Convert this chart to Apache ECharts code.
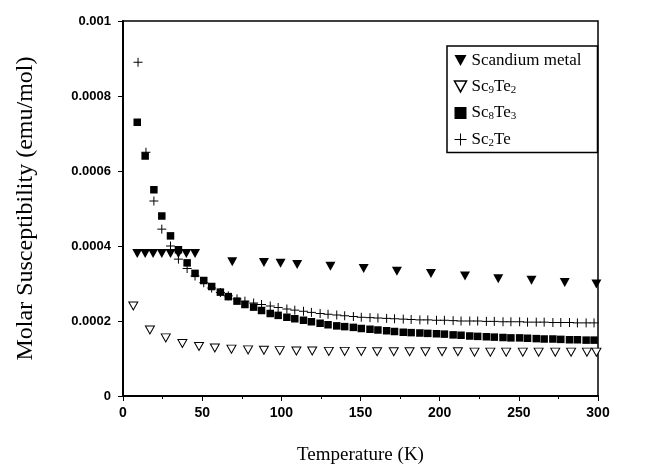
<!DOCTYPE html>
<html>
<head>
<meta charset="utf-8">
<script src="https://cdn.jsdelivr.net/npm/echarts@6/dist/echarts.min.js"></script>
<style>
html, body { margin: 0; padding: 0; background: #fff; }
#chart { width: 645px; height: 474px; }
</style>
</head>
<body>
<div id="chart"></div>
<script>
// Scandium metal (filled down triangles)
var scTemp = [9, 14, 19, 24.5, 30, 35, 40, 45.5, 69, 89, 99.5, 110, 131, 152, 173, 194.5, 216, 237, 258, 279, 299];
var scChi = [0.00038, 0.00038, 0.00038, 0.00038, 0.00038, 0.00038, 0.00038, 0.00038,
    0.000358, 0.000356, 0.000354, 0.000351, 0.000346, 0.00034, 0.000333, 0.000327,
    0.00032, 0.000313, 0.000309, 0.000303, 0.000299];

// Sc9Te2 (open down triangles)
var sc9Temp = [6.5, 17, 27, 37.5, 48, 58, 68.5, 79, 89, 99, 109.5, 119.5, 130, 140, 150.5,
    160.5, 171, 181, 191, 201.5, 211.5, 222, 232, 242, 252.5, 262.5, 273, 283, 293, 299];
var sc9Chi = [0.00024, 0.000176, 0.000155, 0.00014, 0.000132, 0.000128, 0.000125, 0.000123,
    0.000122, 0.000121, 0.00012, 0.00012, 0.000119, 0.000119, 0.000119, 0.000118, 0.000118,
    0.000118, 0.000118, 0.000118, 0.000118, 0.000117, 0.000117, 0.000117, 0.000117,
    0.000117, 0.000117, 0.000117, 0.000117, 0.000117];

// Sc8Te3 (filled squares)
var sc8Temp = [9, 14, 19.5, 24.5, 30, 35, 40.5, 45.5, 51, 56, 61.5, 66.5, 72, 77, 82.5, 87.5,
    93, 98, 103.5, 108.5, 114, 119, 124.5, 129.5, 135, 140, 145.5, 150.5, 156, 161, 166.5,
    171.5, 177, 182, 187.5, 192.5, 198, 203, 208.5, 213.5, 219, 224, 229.5, 234.5, 240, 245,
    250.5, 255.5, 261, 266, 271.5, 276.5, 282, 287, 292.5, 297.5];
var sc8Chi = [0.00073, 0.00064, 0.00055, 0.00048, 0.000427, 0.00039, 0.000355, 0.000327,
    0.000308, 0.000292, 0.000277, 0.000265, 0.000253, 0.000244, 0.000237, 0.000228, 0.00022,
    0.000215, 0.00021, 0.000206, 0.000202, 0.000198, 0.000194, 0.00019, 0.000187, 0.000185,
    0.000183, 0.00018, 0.000178, 0.000176, 0.000174, 0.000172, 0.00017, 0.000169, 0.000168,
    0.000167, 0.000166, 0.000165, 0.000163, 0.000162, 0.00016, 0.000159, 0.000158, 0.000157,
    0.000156, 0.000155, 0.000155, 0.000154, 0.000153, 0.000152, 0.000152, 0.000151, 0.00015,
    0.00015, 0.000149, 0.000149];

// Sc2Te (plus signs)
var sc2Temp = [9.5, 14.5, 19.5, 24.5, 30, 35, 40.5, 45.5, 51, 56, 61.5, 66.5, 72, 77, 82.5,
    87.5, 93, 98, 103.5, 108.5, 114, 119, 124.5, 129.5, 135, 140, 145.5, 150.5, 156, 161,
    166.5, 171.5, 177, 182, 187.5, 192.5, 198, 203, 208.5, 213.5, 219, 224, 229.5, 234.5,
    240, 245, 250.5, 255.5, 261, 266, 271.5, 276.5, 282, 287, 292.5, 297.5];
var sc2Chi = [0.00089, 0.00065, 0.00052, 0.000445, 0.0004, 0.000365, 0.00034, 0.00032,
    0.000302, 0.000288, 0.000276, 0.000267, 0.000259, 0.000253, 0.000248, 0.000244, 0.00024,
    0.000236, 0.000232, 0.000229, 0.000226, 0.000223, 0.00022, 0.000218, 0.000216, 0.000214,
    0.000212, 0.00021, 0.000209, 0.000208, 0.000207, 0.000206, 0.000205, 0.000204, 0.000203,
    0.000203, 0.000202, 0.000202, 0.000201, 0.0002, 0.0002, 0.0002, 0.000199, 0.000199,
    0.000198, 0.000198, 0.000198, 0.000197, 0.000197, 0.000197, 0.000196, 0.000196, 0.000196,
    0.000195, 0.000195, 0.000195];

var seriesNames = ['Scandium metal', 'Sc9Te2', 'Sc8Te3', 'Sc2Te'];

var pairUp = function (xs, ys) {
    var out = [];
    for (var i = 0; i < xs.length; i++) {
        out.push([xs[i], ys[i]]);
    }
    return out;
};

// legend text with subscripts
var legendLabel = function (name) {
    if (name === 'Scandium metal') return '{n|Scandium metal}';
    var m = name.match(/^Sc(\d)Te(\d)?$/);
    var s = '{n|Sc}{s|' + m[1] + '}{n|Te}';
    if (m[2]) s += '{s|' + m[2] + '}';
    return s;
};

var serif = '"Liberation Serif", "Times New Roman", serif';
var sans = '"Liberation Sans", Arial, sans-serif';
var downTri = 'path://M0,0L10,0L5,9Z';
var plusPath = 'path://M0,5L10,5M5,0L5,10';

var chart = echarts.init(document.getElementById('chart'), null, {renderer: 'canvas'});

var option = {
    animation: false,
    backgroundColor: '#fff',
    grid: {
        left: 123, right: 47, top: 21, bottom: 78,
        show: true, borderColor: '#000', borderWidth: 1.5
    },
    legend: {
        orient: 'vertical',
        left: 447, top: 46,
        padding: [6, 16, 4, 5],
        itemGap: 9,
        itemWidth: 12, itemHeight: 12,
        backgroundColor: '#fff',
        borderColor: '#000', borderWidth: 1.5,
        data: [
            {name: seriesNames[0], icon: downTri, itemStyle: {color: '#000', borderWidth: 0}},
            {name: seriesNames[1], icon: downTri, itemStyle: {color: '#fff', borderColor: '#000', borderWidth: 1.5}},
            {name: seriesNames[2], icon: 'rect', itemStyle: {color: '#000', borderWidth: 0}},
            {name: seriesNames[3], icon: plusPath, itemStyle: {color: 'none', borderColor: '#000', borderWidth: 1}}
        ],
        formatter: legendLabel,
        textStyle: {
            color: '#000',
            rich: {
                n: {fontFamily: serif, fontSize: 17, color: '#000', lineHeight: 18},
                s: {fontFamily: serif, fontSize: 11, color: '#000', lineHeight: 11, verticalAlign: 'bottom'}
            }
        }
    },
    xAxis: {
        type: 'value',
        min: 0, max: 300, interval: 50,
        name: 'Temperature (K)',
        nameLocation: 'middle',
        nameGap: 50,
        nameTextStyle: {fontFamily: serif, fontSize: 19, color: '#000'},
        axisLine: {show: true, lineStyle: {color: '#000', width: 2}},
        axisTick: {show: true, inside: false, length: 5, lineStyle: {color: '#000', width: 1}},
        minorTick: {show: true, splitNumber: 2, length: 3, lineStyle: {color: '#000'}},
        splitLine: {show: false},
        axisLabel: {
            margin: 10,
            fontFamily: sans, fontWeight: 'bold', fontSize: 14, color: '#000'
        }
    },
    yAxis: {
        type: 'value',
        min: 0, max: 0.001, interval: 0.0002,
        name: 'Molar Susceptibility (emu/mol)',
        nameLocation: 'middle',
        nameGap: 85,
        nameTextStyle: {fontFamily: serif, fontSize: 24, color: '#000'},
        axisLine: {show: true, lineStyle: {color: '#000', width: 2}},
        axisTick: {show: true, inside: false, length: 5, lineStyle: {color: '#000', width: 1}},
        splitLine: {show: false},
        axisLabel: {
            margin: 12,
            fontFamily: sans, fontWeight: 'bold', fontSize: 13, color: '#000',
            formatter: function (v) {
                return v === 0 ? '0' : String(parseFloat(v.toFixed(4)));
            }
        }
    },
    series: [
        {
            name: seriesNames[0], type: 'scatter',
            symbol: downTri, symbolSize: [10, 9],
            itemStyle: {color: '#000', opacity: 1},
            data: pairUp(scTemp, scChi), z: 4
        },
        {
            name: seriesNames[1], type: 'scatter',
            symbol: downTri, symbolSize: [9, 8],
            itemStyle: {color: '#fff', borderColor: '#000', borderWidth: 1, opacity: 1},
            data: pairUp(sc9Temp, sc9Chi), z: 3
        },
        {
            name: seriesNames[2], type: 'scatter',
            symbol: 'rect', symbolSize: 7.5,
            itemStyle: {color: '#000', opacity: 1},
            data: pairUp(sc8Temp, sc8Chi), z: 2
        },
        {
            name: seriesNames[3], type: 'scatter',
            symbol: plusPath, symbolSize: 9,
            itemStyle: {color: 'none', borderColor: '#000', borderWidth: 1, opacity: 1},
            data: pairUp(sc2Temp, sc2Chi), z: 5
        }
    ]
};

chart.setOption(option);
</script>
</body>
</html>
